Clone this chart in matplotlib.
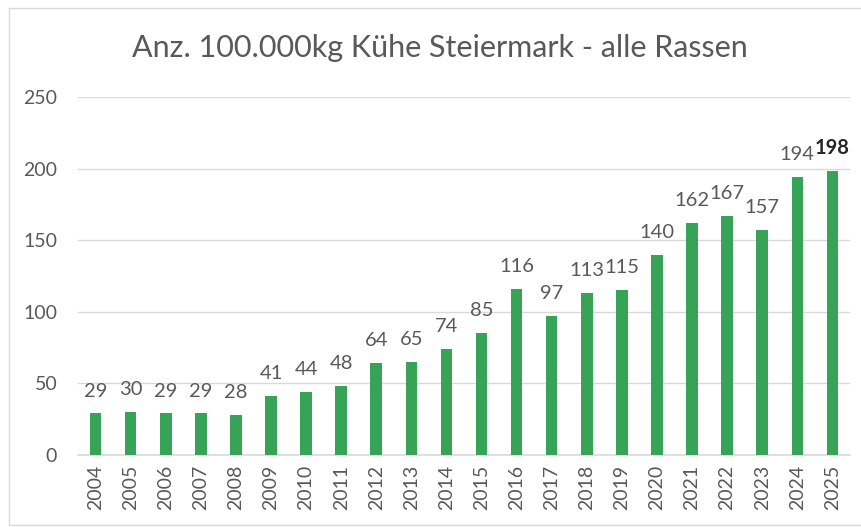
import matplotlib.pyplot as plt
from matplotlib.patches import Rectangle
import numpy as np

plt.rcParams['font.family'] = ['Lato', 'DejaVu Sans']

years = [str(y) for y in range(2004, 2026)]
counts = [29, 30, 29, 29, 28, 41, 44, 48, 64, 65, 74, 85,
          116, 97, 113, 115, 140, 162, 167, 157, 194, 198]

green = '#37a357'
textc = '#595959'
gridc = '#d9d9d9'

fig = plt.figure(figsize=(8.62, 5.27), dpi=100)
ax = fig.add_axes([0.0905, 0.1366, 0.8955, 0.6794])

x = np.arange(len(years))
ax.bar(x, counts, width=0.33, color=green, zorder=3)

for i, v in enumerate(counts):
    bold = i == len(counts) - 1
    ax.annotate(str(v), (x[i], v), xytext=(0, 10), textcoords='offset points',
                ha='center', va='bottom', fontsize=14.5, color='#262626' if bold else textc,
                fontweight='bold' if bold else 'normal')

ax.set_xlim(-0.5, len(years) - 0.5)
ax.set_ylim(0, 250)
ax.set_yticks(range(0, 251, 50))
ax.set_xticks(x)
ax.set_xticklabels(years, rotation=90)
ax.tick_params(axis='both', length=0, labelsize=14, colors=textc)
ax.tick_params(axis='y', pad=15)
ax.tick_params(axis='x', pad=7)
ax.grid(axis='y', color=gridc, linewidth=1, zorder=0)
for s in ['top', 'right', 'left']:
    ax.spines[s].set_visible(False)
ax.spines['bottom'].set_color(gridc)
ax.spines['bottom'].set_linewidth(1.2)

fig.text(0.51, 0.908, 'Anz. 100.000kg Kühe Steiermark - alle Rassen',
         ha='center', va='center', fontsize=22, color=textc)

fig.patches.append(Rectangle((9 / 862, 2 / 527), 1.2, 517 / 527, transform=fig.transFigure,
                             fill=False, edgecolor=gridc, linewidth=1))

fig.savefig('out.png', dpi=100)
